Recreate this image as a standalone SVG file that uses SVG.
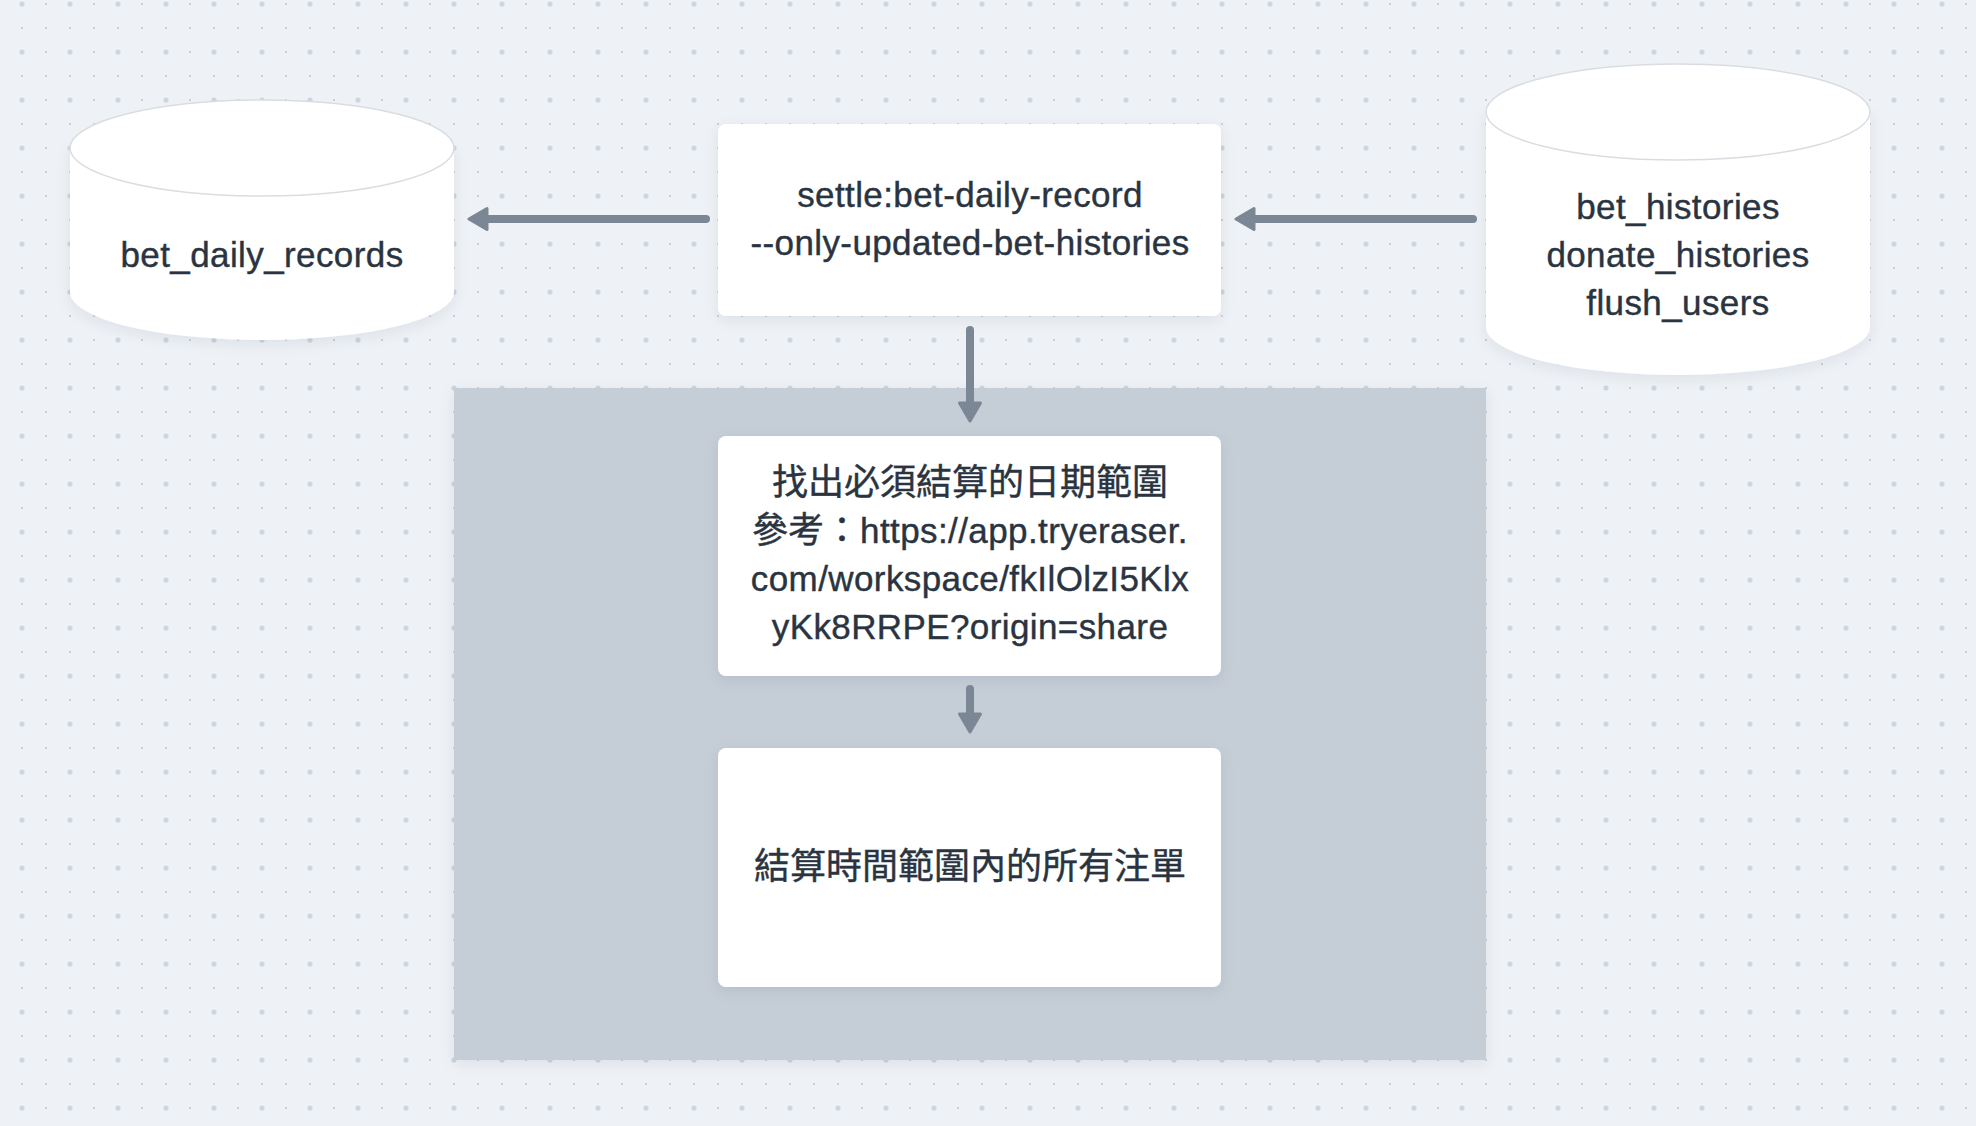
<svg xmlns="http://www.w3.org/2000/svg" width="1976" height="1126" viewBox="0 0 1976 1126">
  <defs>
    <pattern id="dots" patternUnits="userSpaceOnUse" x="-2" y="-20" width="48" height="48">
      <rect x="-1" y="-1" width="2" height="2" fill="#c9d0d9"/>
      <rect x="23" y="-1" width="2" height="2" fill="#c9d0d9"/>
      <rect x="-1" y="23" width="2" height="2" fill="#c9d0d9"/>
      <rect x="47" y="-1" width="2" height="2" fill="#c9d0d9"/>
      <rect x="-1" y="47" width="2" height="2" fill="#c9d0d9"/>
      <rect x="47" y="47" width="2" height="2" fill="#c9d0d9"/>
      <rect x="23" y="47" width="2" height="2" fill="#c9d0d9"/>
      <rect x="47" y="23" width="2" height="2" fill="#c9d0d9"/>
      <circle cx="24" cy="24" r="2.6" fill="#cdd4de"/>
    </pattern>
    <filter id="shadow" x="-20%" y="-20%" width="140%" height="150%">
      <feDropShadow dx="0" dy="4" stdDeviation="7" flood-color="#1d2b3a" flood-opacity="0.08"/>
    </filter>
    <marker id="arrow" viewBox="0 0 22 26" refX="9" refY="13" markerWidth="22" markerHeight="26" markerUnits="userSpaceOnUse" orient="auto">
      <path d="M2,2.5 L20,13 L2,23.5 Z" fill="#7b8794" stroke="#7b8794" stroke-width="3" stroke-linejoin="round"/>
    </marker>
    <style>
      .lbl { font-family: "Liberation Sans", "Noto Sans CJK TC", sans-serif; font-size: 35px; fill: #2a3441; stroke: #2a3441; stroke-width: 0.4px; letter-spacing: 0.4px; text-anchor: middle; }
      .cjk { font-size: 36px; letter-spacing: 0px; }
      .box { fill: #ffffff; filter: url(#shadow); }
      .cyl { fill: #ffffff; filter: url(#shadow); }
      .cyltop { fill: #ffffff; stroke: #d9dde2; stroke-width: 1.5; }
      .edge { fill: none; stroke: #7b8794; stroke-width: 8; stroke-linecap: round; marker-end: url(#arrow); }
    </style>
  </defs>

  <rect width="1976" height="1126" fill="#eef2f6"/>
  <rect width="1976" height="1126" fill="url(#dots)"/>

  <g id="group-settle">
    <rect x="454" y="388" width="1032" height="672" fill="#c5ced7" filter="url(#shadow)"/>
  </g>

  <g id="node-bet-daily-records">
    <path class="cyl" d="M70,148 L70,292 A192,48 0 0 0 454,292 L454,148 Z"/>
    <ellipse class="cyltop" cx="262" cy="148" rx="192" ry="48"/>
    <text class="lbl" x="262" y="267">bet_daily_records</text>
  </g>

  <g id="node-command">
    <rect class="box" x="718" y="124" width="503" height="192" rx="8"/>
    <text class="lbl" x="970" y="207">settle:bet-daily-record</text>
    <text class="lbl" x="970" y="255">--only-updated-bet-histories</text>
  </g>

  <g id="node-histories">
    <path class="cyl" d="M1486,112 L1486,327 A192,48 0 0 0 1870,327 L1870,112 Z"/>
    <ellipse class="cyltop" cx="1678" cy="112" rx="192" ry="48"/>
    <text class="lbl" x="1678" y="219">bet_histories</text>
    <text class="lbl" x="1678" y="267">donate_histories</text>
    <text class="lbl" x="1678" y="315">flush_users</text>
  </g>

  <g id="node-find-range">
    <rect class="box" x="718" y="436" width="503" height="240" rx="8"/>
    <text class="lbl cjk" x="970" y="495">找出必須結算的日期範圍</text>
    <text class="lbl" x="970" y="543"><tspan class="cjk">參考：</tspan>https://app.tryeraser.</text>
    <text class="lbl" x="970" y="591">com/workspace/fkIlOlzI5Klx</text>
    <text class="lbl" x="970" y="639">yKk8RRPE?origin=share</text>
  </g>

  <g id="node-settle-bets">
    <rect class="box" x="718" y="748" width="503" height="239" rx="8"/>
    <text class="lbl cjk" x="970" y="879">結算時間範圍內的所有注單</text>
  </g>

  <g id="connectors">
    <line class="edge" x1="706" y1="219" x2="480" y2="219"/>
    <line class="edge" x1="1473" y1="219" x2="1247" y2="219"/>
    <line class="edge" x1="970" y1="330" x2="970" y2="410"/>
    <line class="edge" x1="970" y1="689" x2="970" y2="721"/>
  </g>
</svg>
